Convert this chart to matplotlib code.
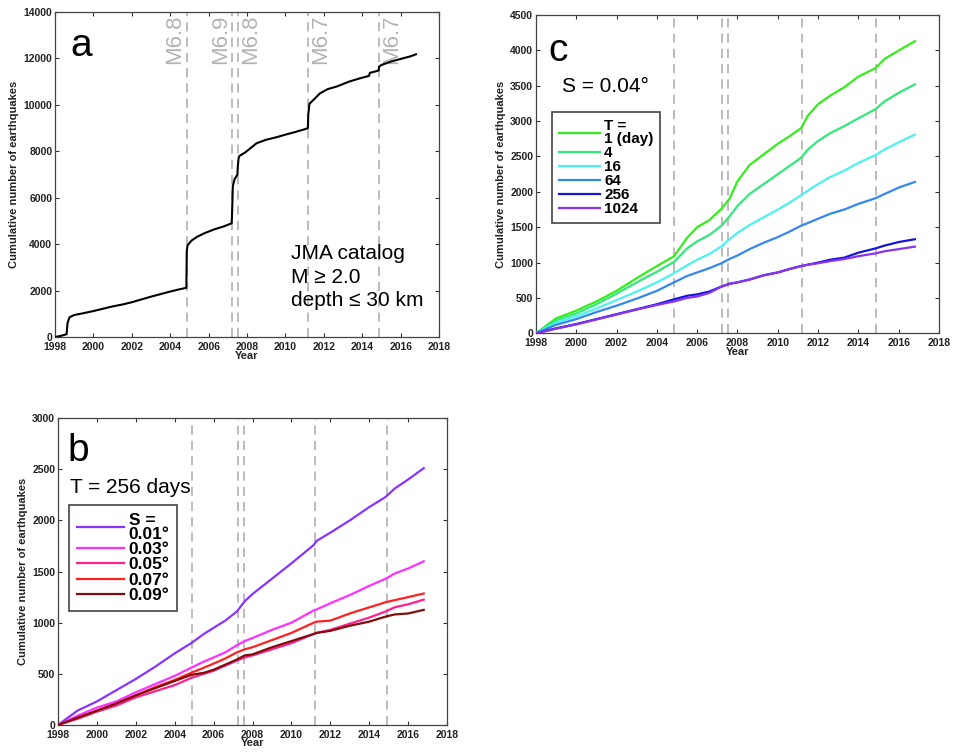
import numpy as np
import matplotlib
matplotlib.use('Agg')
import matplotlib.pyplot as plt

plt.rcParams['font.family'] = ['Liberation Sans', 'DejaVu Sans']

# main shocks (decimal year) and magnitudes
eq_years = [2004.87, 2007.23, 2007.54, 2011.19, 2014.89]
eq_labels = ['M6.8', 'M6.9', 'M6.8', 'M6.7', 'M6.7']
eq_side = [-1, -1, 1, 1, 1]   # label left (-1) or right (1) of its line

# panel a: cumulative count, JMA catalog
yr_a = [1998.0, 1998.3, 1998.6, 1998.65, 1998.75, 1999.0, 1999.5, 2000.0, 2000.5, 2001.0, 2001.5,
        2002.0, 2002.5, 2003.0, 2003.5, 2004.0, 2004.5, 2004.84, 2004.86, 2004.9, 2005.1,
        2005.4, 2005.8, 2006.3, 2006.8, 2007.2, 2007.22, 2007.26, 2007.35, 2007.5, 2007.52,
        2007.56, 2007.6, 2007.9, 2008.2, 2008.5, 2009.0, 2009.5, 2010.0, 2010.5, 2011.0,
        2011.17, 2011.19, 2011.25, 2011.5, 2011.8, 2012.2, 2012.7, 2013.3, 2013.9, 2014.35,
        2014.4, 2014.85, 2014.88, 2015.0, 2015.5, 2016.0, 2016.5, 2016.8]
cnt_a = [0, 50, 120, 600, 850, 950, 1030, 1120, 1220, 1320, 1400,
         1500, 1620, 1740, 1850, 1960, 2060, 2120, 3700, 3950, 4150,
         4320, 4480, 4640, 4770, 4900, 5300, 6500, 6800, 7000, 7350,
         7700, 7800, 7950, 8150, 8350, 8500, 8600, 8720, 8830, 8950,
         9000, 9600, 10050, 10250, 10500, 10680, 10800, 11000, 11150, 11250,
         11380, 11480, 11650, 11720, 11870, 11980, 12090, 12180]

# panel c: S = 0.04 deg, different T
yr_c = [1998.0, 1999.0, 2000.0, 2001.0, 2002.0, 2003.0, 2004.0, 2004.85, 2005.5, 2006.0, 2006.6,
        2007.2, 2007.6, 2008.0, 2008.6, 2009.3, 2010.0, 2010.6, 2011.15, 2011.5, 2012.0,
        2012.6, 2013.3, 2014.0, 2014.85, 2015.3, 2016.0, 2016.8]
c_T1 = [0, 210, 320, 450, 600, 780, 950, 1090, 1350, 1500, 1600,
        1760, 1900, 2150, 2380, 2530, 2680, 2790, 2900, 3080, 3240,
        3360, 3480, 3630, 3750, 3880, 4000, 4130]
c_T4 = [0, 180, 280, 410, 560, 720, 870, 1010, 1200, 1300, 1390,
        1520, 1650, 1800, 1970, 2110, 2250, 2370, 2480, 2600, 2720,
        2830, 2930, 3040, 3170, 3280, 3400, 3520]
c_T16 = [0, 150, 240, 350, 470, 590, 720, 850, 960, 1040, 1120,
         1230, 1330, 1420, 1530, 1640, 1750, 1850, 1950, 2020, 2110,
         2210, 2300, 2410, 2520, 2600, 2700, 2810]
c_T64 = [0, 120, 200, 300, 390, 490, 600, 720, 810, 860, 920,
         990, 1050, 1100, 1190, 1280, 1360, 1440, 1520, 1560, 1620,
         1690, 1750, 1830, 1910, 1970, 2060, 2140]
c_T256 = [0, 70, 130, 200, 270, 340, 410, 480, 530, 550, 590,
          660, 700, 720, 760, 820, 860, 910, 950, 970, 1000,
          1040, 1070, 1140, 1200, 1240, 1290, 1330]
c_T1024 = [0, 65, 125, 195, 265, 335, 400, 450, 500, 520, 570,
           660, 700, 720, 760, 820, 860, 910, 950, 970, 990,
           1020, 1050, 1090, 1130, 1160, 1190, 1225]
c_names = ['T =\n1 (day)', '4', '16', '64', '256', '1024']

# panel b: T = 256 days, different S
yr_b = [1998.0, 1999.0, 2000.0, 2001.0, 2002.0, 2003.0, 2004.0, 2004.85, 2005.5, 2006.0, 2006.6,
        2007.2, 2007.6, 2008.0, 2009.0, 2010.0, 2011.15, 2011.3, 2012.0, 2013.0, 2014.0,
        2014.85, 2015.3, 2016.0, 2016.8]
b_S01 = [0, 140, 230, 340, 450, 570, 700, 800, 890, 950, 1020,
         1110, 1210, 1280, 1430, 1580, 1760, 1800, 1880, 2000, 2130,
         2230, 2310, 2400, 2510]
b_S03 = [0, 90, 170, 230, 320, 400, 480, 560, 620, 660, 710,
         780, 820, 850, 930, 1000, 1120, 1130, 1190, 1270, 1360,
         1430, 1480, 1530, 1600]
b_S05 = [0, 60, 130, 190, 270, 330, 390, 460, 500, 530, 580,
         630, 660, 680, 740, 800, 890, 900, 930, 990, 1050,
         1110, 1150, 1180, 1225]
b_S07 = [0, 70, 140, 210, 290, 370, 440, 510, 560, 600, 650,
         710, 740, 760, 830, 900, 1000, 1010, 1020, 1090, 1150,
         1200, 1220, 1250, 1285]
b_S09 = [0, 70, 140, 210, 290, 360, 430, 490, 510, 540, 590,
         640, 680, 690, 760, 820, 890, 900, 920, 970, 1010,
         1060, 1080, 1090, 1125]
b_names = ['S =\n0.01°', '0.03°', '0.05°', '0.07°', '0.09°']

col_c = ['#33ee1a', '#33e87a', '#4cf2f2', '#3388ee', '#1414dd', '#8a33ee']
col_b = ['#8a33ff', '#ff30ff', '#ff2090', '#ff2020', '#800d0d']


def base_axes(ax, ymax, ystep):
    ax.set_xlim(1998, 2018)
    ax.set_ylim(0, ymax)
    ax.set_xticks(np.arange(1998, 2019, 2))
    ax.set_yticks(np.arange(0, ymax + 1, ystep))
    ax.tick_params(direction='in', top=True, right=True, length=3, width=0.8,
                   labelsize=7.5, colors='#333333', labelcolor='#222222')
    ax.tick_params(axis='x', pad=3.5)
    ax.tick_params(axis='y', pad=2)
    for lab in ax.get_xticklabels() + ax.get_yticklabels():
        lab.set_fontweight('bold')
    for s in ax.spines.values():
        s.set_color('#444444')
        s.set_linewidth(0.9)
    ax.set_xlabel('Year', fontsize=8, fontweight='bold', labelpad=-1, color='#222222')
    ax.set_ylabel('Cumulative number of earthquakes', fontsize=8, fontweight='bold',
                  labelpad=3, color='#222222')
    for x in eq_years:
        ax.axvline(x, color='#aaaaaa', lw=1.1, ls=(0, (6, 4)), zorder=1)


def legend_box(ax, loc, size, hl):
    leg = ax.legend(loc='upper left', bbox_to_anchor=loc, prop={'size': size, 'weight': 'bold'},
                    handlelength=hl, handletextpad=0.25, labelspacing=0.0,
                    borderpad=0.45, borderaxespad=0, fancybox=False, framealpha=1)
    leg.get_frame().set_edgecolor('#444444')
    leg.get_frame().set_linewidth(1.2)
    for t in leg.get_texts():
        t.set_linespacing(0.95)
    return leg


fig = plt.figure(figsize=(9.54, 7.54), dpi=100)
ax_a = fig.add_axes([0.0577, 0.553, 0.4025, 0.431])
ax_c = fig.add_axes([0.5618, 0.558, 0.4225, 0.422])
ax_b = fig.add_axes([0.0608, 0.0385, 0.4078, 0.407])

# a
base_axes(ax_a, 14000, 2000)
ax_a.plot(yr_a, cnt_a, c='black', lw=1.5, zorder=3)
for x, lab, sd in zip(eq_years, eq_labels, eq_side):
    ax_a.text(x + 0.08 * sd, 13900, lab, rotation=90, ha='right' if sd < 0 else 'left',
              va='top', fontsize=16, color='#b3b3b3', zorder=2)
ax_a.text(0.04, 0.95, 'a', transform=ax_a.transAxes, fontsize=28, va='top', ha='left')
ax_a.text(0.615, 0.285, 'JMA catalog\nM ≥ 2.0\ndepth ≤ 30 km', transform=ax_a.transAxes,
          fontsize=15, va='top', ha='left', linespacing=1.28)

# c
base_axes(ax_c, 4500, 500)
for y, c, n in zip([c_T1, c_T4, c_T16, c_T64, c_T256, c_T1024], col_c, c_names):
    ax_c.plot(yr_c, y, c=c, lw=1.6, label=n, zorder=3)
ax_c.text(0.03, 0.945, 'c', transform=ax_c.transAxes, fontsize=28, va='top', ha='left')
ax_c.text(0.065, 0.775, 'S = 0.04°', transform=ax_c.transAxes, fontsize=15, va='center', ha='left')
legend_box(ax_c, (0.04, 0.695), 11, 2.7)

# b
base_axes(ax_b, 3000, 500)
for y, c, n in zip([b_S01, b_S03, b_S05, b_S07, b_S09], col_b, b_names):
    ax_b.plot(yr_b, y, c=c, lw=1.6, label=n, zorder=3)
ax_b.text(0.025, 0.95, 'b', transform=ax_b.transAxes, fontsize=28, va='top', ha='left')
ax_b.text(0.03, 0.775, 'T = 256 days', transform=ax_b.transAxes, fontsize=15, va='center', ha='left')
legend_box(ax_b, (0.028, 0.717), 12.5, 2.75)

fig.savefig('out.png', dpi=100)
